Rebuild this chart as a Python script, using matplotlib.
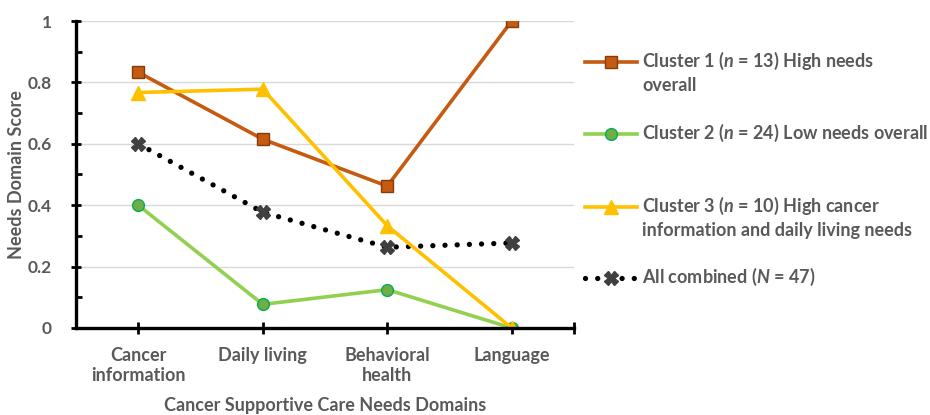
#!/usr/bin/env python3

import matplotlib
matplotlib.use('Agg')
import matplotlib.pyplot as plt
from matplotlib.lines import Line2D
from matplotlib.ticker import MultipleLocator

# data
domains = ['Cancer\ninformation', 'Daily living', 'Behavioral\nhealth', 'Language']
cluster1 = [0.833, 0.615, 0.462, 1.0]
cluster2 = [0.40, 0.077, 0.125, 0.0]
cluster3 = [0.767, 0.778, 0.333, 0.0]
combined = [0.60, 0.377, 0.263, 0.277]
yticks = [0, 0.2, 0.4, 0.6, 0.8, 1.0]
ytick_labels = ['0', '0.2', '0.4', '0.6', '0.8', '1']

labels = ['Cluster 1 ($\\mathit{n}$ = 13) High needs\noverall',
          'Cluster 2 ($\\mathit{n}$ = 24) Low needs overall',
          'Cluster 3 ($\\mathit{n}$ = 10) High cancer\ninformation and daily living needs',
          'All combined ($\\mathit{N}$ = 47)']

plt.rcParams['font.family'] = ['Lato', 'DejaVu Sans']
plt.rcParams['font.weight'] = 'bold'
plt.rcParams['mathtext.fontset'] = 'custom'
plt.rcParams['mathtext.it'] = 'Lato:italic:bold'
plt.rcParams['mathtext.rm'] = 'Lato:bold'

txt = '#595959'
fs = 13
W, H = 930, 415

fig = plt.figure(figsize=(9.3, 4.15), dpi=100)
ax = fig.add_axes([76 / W, 1 - 328 / H, (574 - 76) / W, (328 - 21) / H])

x = list(range(len(domains)))

# styles for each series (line, marker)
styles = [
    dict(color='#C55A11', lw=2.6, marker='s', ms=9, mfc='#C55A11', mec='#843C0C', mew=1.0),
    dict(color='#92D050', lw=2.6, marker='o', ms=8.5, mfc='#70AD47', mec='#00B050', mew=1.0),
    dict(color='#FFC000', lw=2.6, marker='^', ms=10, mfc='#FFC000', mec='#FFC000', mew=1.0),
]
series = [cluster1, cluster2, cluster3]

# dotted "all combined" line first so it sits below
ax.plot(x, combined, color='black', lw=3.8, ls=(0, (0.01, 2.3)),
        dash_capstyle='round', zorder=3)
ax.plot(x, combined, ls='none', marker='X', ms=10, color='#404040',
        mec='#404040', zorder=4)
for ys, st in zip(series, styles):
    ax.plot(x, ys, zorder=5, **st)

ax.set_xlim(-0.5, 3.5)
ax.set_ylim(0, 1)
ax.set_xticks(x + [3.5])
ax.set_xticklabels(domains + [''], color=txt, fontsize=fs, fontweight='bold')
ax.set_yticks(yticks)
ax.set_yticklabels(ytick_labels, color=txt, fontsize=12.5, fontweight='bold')
ax.yaxis.set_minor_locator(MultipleLocator(0.1))
ax.tick_params(axis='x', direction='inout', length=8, width=2, pad=10)
ax.tick_params(axis='y', which='major', direction='inout', length=7, width=2, pad=14)
ax.tick_params(axis='y', which='minor', direction='in', length=4, width=2)

for s in ['top', 'right']:
    ax.spines[s].set_visible(False)
for s in ['left', 'bottom']:
    ax.spines[s].set_linewidth(2.4)
    ax.spines[s].set_color('black')
    ax.spines[s].set_zorder(6)

ax.grid(axis='y', color='#D9D9D9', lw=1)
ax.set_axisbelow(True)

ax.set_ylabel('Needs Domain Score', color=txt, fontsize=fs, fontweight='bold',
              va='center')
ax.yaxis.set_label_coords((16 - 76) / (574 - 76), 0.5)
ax.set_xlabel('Cancer Supportive Care Needs Domains', color=txt, fontsize=fs,
              fontweight='bold', va='center')
ax.xaxis.set_label_coords(0.5, -(406 - 328) / (328 - 21))

# legend drawn by hand so the handle sits beside the first text line
leg_y = [62, 134, 207, 278]
x0, x1 = 585 / W, 637 / W
for i, lab in enumerate(labels):
    yy = 1 - leg_y[i] / H
    if i < 3:
        st = styles[i]
        fig.add_artist(Line2D([x0, (x0 + x1) / 2, x1], [yy] * 3, markevery=[1],
                              transform=fig.transFigure, **st))
    else:
        fig.add_artist(Line2D([x0, x1], [yy, yy], color='black', lw=3.8,
                              ls=(0, (0.01, 2.3)), dash_capstyle='round',
                              transform=fig.transFigure))
        fig.add_artist(Line2D([(x0 + x1) / 2], [yy], ls='none', marker='X', ms=10,
                              color='#404040', transform=fig.transFigure))
    fig.text(642 / W, yy + 12 / H, lab, color=txt, fontsize=fs, fontweight='bold',
             va='top', ha='left', linespacing=1.35)

fig.savefig('out.png', dpi=100)
